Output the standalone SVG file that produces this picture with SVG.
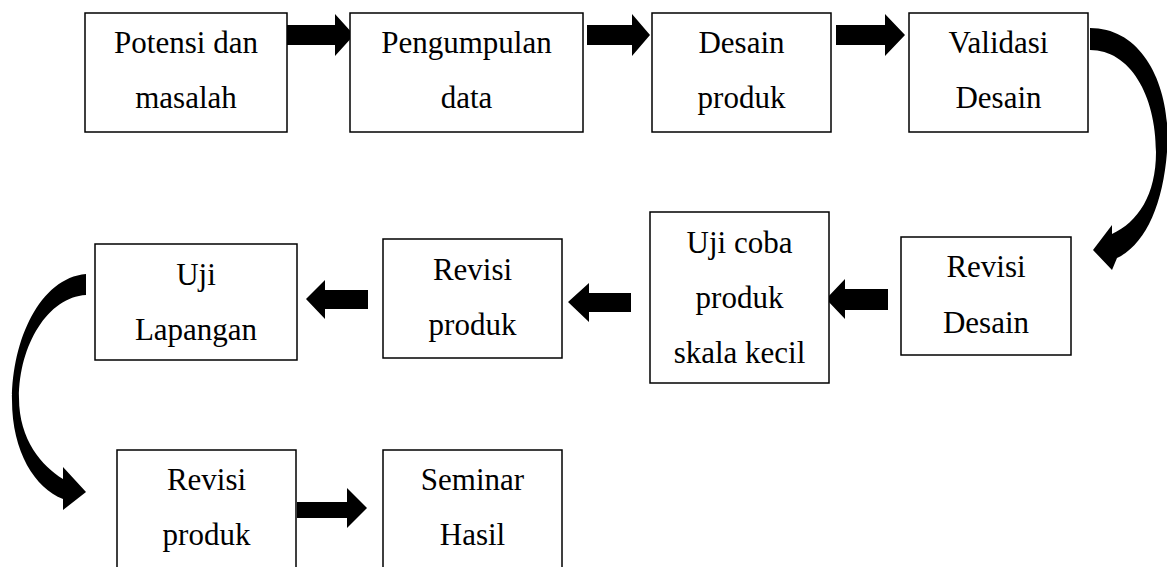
<svg xmlns="http://www.w3.org/2000/svg" width="1167" height="567" viewBox="0 0 1167 567">
<style>
.box{fill:#fff;stroke:#000;stroke-width:1.5}
text{font-family:"Liberation Serif","Times New Roman",serif;font-size:31px;fill:#000;text-anchor:middle}
.arr{fill:#000;stroke:none}
</style>
<rect width="1167" height="567" fill="#fff"/>
<g id="connectors">
<polygon class="arr" points="287,25 335,25 335,14 354,35 335,56 335,45 287,45"/>
<polygon class="arr" points="587,25 632,25 632,14 650,35 632,56 632,45 587,45"/>
<polygon class="arr" points="836,25 885,25 885,14 905,35 885,56 885,45 836,45"/>
<path class="arr" d="M1090,28 C1145,28 1172,90 1167,152 C1163,205 1145,245 1117,258 L1112,270 L1093,250 L1112,225 L1112,234 C1138,222 1156,195 1156,152 C1156,95 1130,50 1090,50 Z"/>
<polygon class="arr" points="888,289 845,289 845,279 826,299 845,319 845,310 888,310"/>
<polygon class="arr" points="631,293 589,293 589,283 568,302 589,322 589,312 631,312"/>
<polygon class="arr" points="368,290 325,290 325,280 306,299 325,319 325,309 368,309"/>
<path class="arr" d="M86,274 C40,278 12,340 12,400 C12,452 35,488 63,499 L63,510 L86,492 L63,467 L63,479 C42,466 19,440 19,398 C19,345 48,297 86,295 Z"/>
<polygon class="arr" points="297,502 347,502 347,488 367,508 347,528 347,518 297,518"/>
</g>
<g id="n1"><rect class="box" x="85" y="13" width="202" height="119"/><text x="186" y="53">Potensi dan</text><text x="186" y="108">masalah</text></g>
<g id="n2"><rect class="box" x="350" y="13" width="233" height="119"/><text x="466.5" y="53">Pengumpulan</text><text x="466.5" y="108">data</text></g>
<g id="n3"><rect class="box" x="652" y="13" width="179" height="119"/><text x="741.5" y="53">Desain</text><text x="741.5" y="108">produk</text></g>
<g id="n4"><rect class="box" x="909" y="13" width="179" height="119"/><text x="998.5" y="53">Validasi</text><text x="998.5" y="108">Desain</text></g>
<g id="n5"><rect class="box" x="901" y="237" width="170" height="118"/><text x="986" y="277">Revisi</text><text x="986" y="333">Desain</text></g>
<g id="n6"><rect class="box" x="650" y="212" width="179" height="171"/><text x="739.5" y="253">Uji coba</text><text x="739.5" y="308">produk</text><text x="739.5" y="363">skala kecil</text></g>
<g id="n7"><rect class="box" x="383" y="239" width="179" height="119"/><text x="472.5" y="280">Revisi</text><text x="472.5" y="335">produk</text></g>
<g id="n8"><rect class="box" x="95" y="244" width="202" height="116"/><text x="196" y="285">Uji</text><text x="196" y="340">Lapangan</text></g>
<g id="n9"><rect class="box" x="117" y="450" width="179" height="130"/><text x="206.5" y="490">Revisi</text><text x="206.5" y="545">produk</text></g>
<g id="n10"><rect class="box" x="383" y="450" width="179" height="130"/><text x="472.5" y="490">Seminar</text><text x="472.5" y="545">Hasil</text></g>
</svg>
